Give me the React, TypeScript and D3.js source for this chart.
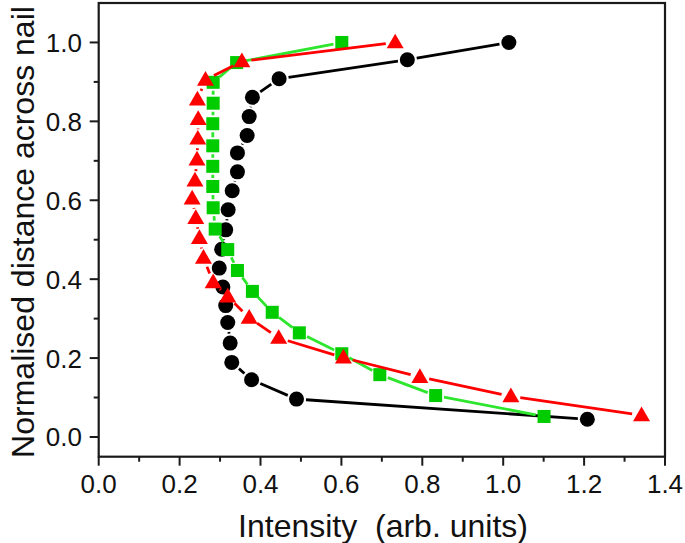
import React from "react";
import * as d3 from "d3";

// Black circles series
const blackY = [0.045, 0.096, 0.145, 0.189, 0.238, 0.290, 0.333, 0.380, 0.428, 0.476, 0.525, 0.576, 0.624, 0.672, 0.720, 0.764, 0.812, 0.861, 0.908, 0.956, 1.0];
const blackX = [1.208, 0.489, 0.378, 0.329, 0.325, 0.319, 0.314, 0.307, 0.298, 0.304, 0.314, 0.320, 0.330, 0.343, 0.343, 0.367, 0.372, 0.380, 0.446, 0.763, 1.014];

// Green squares series
const greenY = [0.052, 0.105, 0.158, 0.211, 0.264, 0.316, 0.369, 0.422, 0.475, 0.527, 0.581, 0.635, 0.686, 0.738, 0.794, 0.846, 0.899, 0.949, 1.0];
const greenX = [1.101, 0.833, 0.695, 0.601, 0.496, 0.429, 0.380, 0.343, 0.319, 0.288, 0.283, 0.282, 0.282, 0.282, 0.282, 0.283, 0.283, 0.341, 0.601];

// Red triangles series
const redY = [0.055, 0.103, 0.152, 0.201, 0.251, 0.302, 0.356, 0.392, 0.454, 0.504, 0.555, 0.604, 0.650, 0.703, 0.756, 0.806, 0.855, 0.905, 0.952, 1.0];
const redX = [1.342, 1.019, 0.794, 0.605, 0.445, 0.372, 0.319, 0.283, 0.259, 0.249, 0.240, 0.231, 0.238, 0.243, 0.245, 0.246, 0.244, 0.264, 0.354, 0.733];

const xTicks = [0, 0.2, 0.4, 0.6, 0.8, 1.0, 1.2, 1.4];
const xMinor = [0.1, 0.3, 0.5, 0.7, 0.9, 1.1, 1.3];
const yTicks = [0, 0.2, 0.4, 0.6, 0.8, 1.0];
const yMinor = [0.1, 0.3, 0.5, 0.7, 0.9];

const W = 685, H = 543;
const left = 98.7, right = 665, top = 3, bottom = 456.7;
const FONT = "Arial, 'Liberation Sans', Helvetica, sans-serif";

const x = d3.scaleLinear().domain([0, 1.4]).range([left, right]);
const y = d3.scaleLinear().domain([-0.05, 1.1]).range([bottom, top]);

type Pt = [number, number];

function gapSegments(pts: Pt[], gap: number): string {
  let d = "";
  for (let i = 0; i < pts.length - 1; i++) {
    const [x1, y1] = pts[i];
    const [x2, y2] = pts[i + 1];
    const dx = x2 - x1, dy = y2 - y1;
    const len = Math.hypot(dx, dy);
    if (len <= 2 * gap + 0.5) continue;
    const ux = dx / len, uy = dy / len;
    const line = d3.line();
    d += line([[x1 + ux * gap, y1 + uy * gap], [x2 - ux * gap, y2 - uy * gap]]);
  }
  return d;
}

export default function App() {
  const black: Pt[] = blackX.map((v, i) => [x(v), y(blackY[i])]);
  const green: Pt[] = greenX.map((v, i) => [x(v), y(greenY[i])]);
  const red: Pt[] = redX.map((v, i) => [x(v), y(redY[i])]);

  const tri = d3.symbol().type(d3.symbolTriangle).size(125)();

  return (
    <svg width={W} height={H} style={{ position: "absolute", left: 0, top: 0, background: "#fff" }}>
      <rect x={0} y={0} width={W} height={H} fill="#fff" />
      {/* Black series */}
      <path d={gapSegments(black, 9.5)} stroke="#000" strokeWidth={2.8} fill="none" />
      {black.map((p, i) => (
        <circle key={"b" + i} cx={p[0]} cy={p[1]} r={7.5} fill="#000" />
      ))}
      {/* Green series */}
      <path d={gapSegments(green, 8.5)} stroke="#2ee62e" strokeWidth={2.8} fill="none" />
      {green.map((p, i) => (
        <rect key={"g" + i} x={p[0] - 6.5} y={p[1] - 6.5} width={13} height={13} fill="#00cc00" />
      ))}
      {/* Red series */}
      <path d={gapSegments(red, 9.5)} stroke="#ff0000" strokeWidth={2.8} fill="none" />
      {red.map((p, i) => (
        <path key={"r" + i} d={tri as string} transform={`translate(${p[0]},${p[1] + 1})`} fill="#ff0000" />
      ))}

      {/* Frame */}
      <rect x={left} y={top} width={right - left} height={bottom - top} fill="none" stroke="#1a1a1a" strokeWidth={2.2} />

      {/* X ticks */}
      {xTicks.map((t) => (
        <g key={"xt" + t}>
          <line x1={x(t)} x2={x(t)} y1={bottom} y2={bottom + 9} stroke="#1a1a1a" strokeWidth={2} />
          <text x={x(t)} y={493} textAnchor="middle" fontFamily={FONT} fontSize={26} fill="#111">
            {t.toFixed(1)}
          </text>
        </g>
      ))}
      {xMinor.map((t) => (
        <line key={"xm" + t} x1={x(t)} x2={x(t)} y1={bottom} y2={bottom + 5} stroke="#1a1a1a" strokeWidth={2} />
      ))}

      {/* Y ticks */}
      {yTicks.map((t) => (
        <g key={"yt" + t}>
          <line x1={left - 9} x2={left} y1={y(t)} y2={y(t)} stroke="#1a1a1a" strokeWidth={2} />
          <text x={82} y={y(t) + 9.5} textAnchor="end" fontFamily={FONT} fontSize={26} fill="#111">
            {t.toFixed(1)}
          </text>
        </g>
      ))}
      {yMinor.map((t) => (
        <line key={"ym" + t} x1={left - 5} x2={left} y1={y(t)} y2={y(t)} stroke="#1a1a1a" strokeWidth={2} />
      ))}

      {/* Axis titles */}
      <text x={383} y={536.5} textAnchor="middle" fontFamily={FONT} fontSize={32} fill="#111" xmlSpace="preserve">
        {"Intensity  (arb. units)"}
      </text>
      <text
        transform={`translate(34,${232}) rotate(-90)`}
        textAnchor="middle"
        fontFamily={FONT}
        fontSize={32}
        fill="#111"
      >
        Normalised distance across nail
      </text>
    </svg>
  );
}
